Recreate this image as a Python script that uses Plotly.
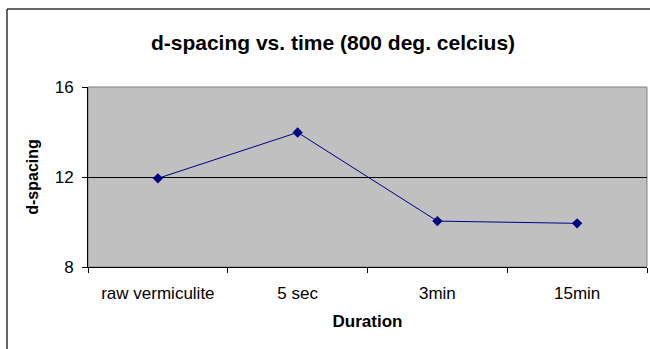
import plotly.graph_objects as go

# d-spacing measured after heating at 800 °C for each duration
durations = ["raw vermiculite", "5 sec", "3min", "15min"]
d_spacing = [11.94, 13.98, 10.04, 9.94]

W, H = 650, 349
ML, MR, MT, MB = 88, 3, 87, 82

fig = go.Figure()
fig.add_trace(go.Scatter(
    x=durations, y=d_spacing, mode="lines+markers",
    line=dict(color="#000080", width=1),
    marker=dict(symbol="diamond", size=8, color="#000080"),
    showlegend=False,
))

# paper coords of the outer chart border (left and top edges only)
pw, ph = W - ML - MR, H - MT - MB
def px_x(v):
    return (v - ML) / pw
def px_y(v):
    return (H - MB - v) / ph

fig.update_layout(
    width=W, height=H,
    margin=dict(l=ML, r=MR, t=MT, b=MB),
    paper_bgcolor="white",
    plot_bgcolor="#C0C0C0",
    font=dict(family="Liberation Sans, Arial, sans-serif", color="black", size=16),
    title=dict(text="<b>d-spacing vs. time (800 deg. celcius)</b>",
               x=px_x(333), xanchor="center", xref="paper",
               y=1 - 43 / H, yanchor="middle",
               font=dict(size=21)),
    xaxis=dict(
        type="category", range=[-0.5, 3.5],
        tickson="boundaries", ticks="outside", ticklen=5, tickcolor="black",
        showline=True, linecolor="black", linewidth=1,
        showgrid=False, zeroline=False,
        ticklabelstandoff=11,
        title=dict(text="<b>Duration</b>", standoff=12, font=dict(size=17)),
        tickfont=dict(size=17),
    ),
    yaxis=dict(
        range=[8, 16], dtick=4, tick0=8,
        ticks="outside", ticklen=5, tickcolor="black",
        showline=True, linecolor="black", linewidth=1,
        showgrid=True, gridcolor="black", gridwidth=1,
        zeroline=False,
        ticklabelstandoff=5,
        title=dict(text="<b>d-spacing</b>", standoff=12, font=dict(size=16)),
        tickfont=dict(size=17),
    ),
    shapes=[
        # plot area frame
        dict(type="rect", xref="paper", yref="paper", x0=0, x1=1, y0=0, y1=1,
             line=dict(color="#808080", width=1), layer="below"),
        # outer chart border
        dict(type="line", xref="paper", yref="paper",
             x0=px_x(7), x1=px_x(652), y0=px_y(9), y1=px_y(9),
             line=dict(color="#333333", width=1.5)),
        dict(type="line", xref="paper", yref="paper",
             x0=px_x(7), x1=px_x(7), y0=px_y(9), y1=px_y(352),
             line=dict(color="#333333", width=1.5)),
    ],
)

fig.write_html("out.html")
